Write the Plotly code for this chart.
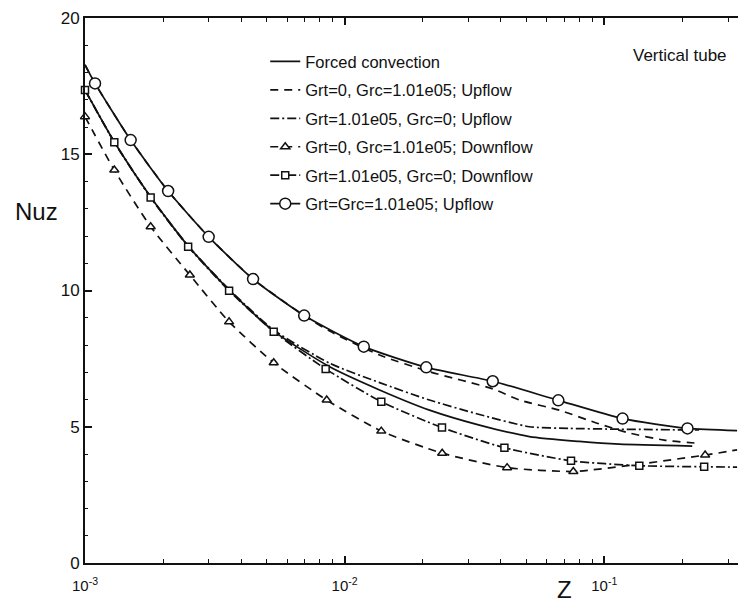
import plotly.graph_objects as go

# ---------------- data ----------------
z_forced = [0.00100, 0.001297, 0.00179, 0.002496, 0.003589, 0.005331, 0.008756,
            0.01363, 0.02122, 0.03305, 0.05146, 0.08014, 0.1142, 0.2181]
nu_forced = [17.36, 15.45, 13.43, 11.63, 10.02, 8.51, 7.20,
             6.35, 5.61, 5.06, 4.64, 4.46, 4.36, 4.29]

z_grc_up = [0.00100, 0.001093, 0.001499, 0.00209, 0.002994, 0.004439, 0.006985, 0.008756,
            0.01363, 0.02122, 0.03718, 0.0471, 0.06712, 0.09316, 0.1248, 0.1702, 0.2319]
nu_grc_up = [18.28, 17.60, 15.52, 13.65, 11.97, 10.42, 9.08, 8.51,
             7.63, 7.02, 6.39, 5.98, 5.61, 5.14, 4.77, 4.51, 4.39]

z_grt_up = [0.00100, 0.001297, 0.00179, 0.002496, 0.003589, 0.005331, 0.008756,
            0.01363, 0.02122, 0.03305, 0.05146, 0.07334, 0.1142, 0.2319]
nu_grt_up = [17.36, 15.45, 13.43, 11.64, 10.04, 8.55, 7.33,
             6.62, 5.98, 5.45, 5.00, 4.94, 4.91, 4.88]

z_grc_down = [0.00100, 0.001297, 0.00179, 0.002534, 0.003589, 0.005331, 0.00853,
              0.01384, 0.02375, 0.04224, 0.0760, 0.1364, 0.2446, 0.3247]
nu_grc_down = [16.38, 14.42, 12.34, 10.57, 8.85, 7.35, 5.98,
               4.84, 4.03, 3.50, 3.36, 3.63, 3.96, 4.15]
grc_down_marked = [1, 1, 1, 1, 1, 1, 1, 1, 1, 1, 1, 0, 1, 0]

z_grt_down = [0.00100, 0.001297, 0.00179, 0.002496, 0.003589, 0.005331, 0.00845,
              0.01384, 0.02371, 0.04124, 0.07444, 0.1364, 0.2425, 0.3247]
nu_grt_down = [17.36, 15.44, 13.41, 11.61, 9.99, 8.49, 7.12,
               5.92, 4.97, 4.23, 3.75, 3.57, 3.53, 3.52]
grt_down_marked = [1, 1, 1, 1, 1, 1, 1, 1, 1, 1, 1, 1, 1, 0]

z_both_up = [0.00100, 0.001093, 0.001499, 0.00209, 0.002994, 0.004439, 0.006985,
             0.01185, 0.02062, 0.03718, 0.06653, 0.1176, 0.2091, 0.3247]
nu_both_up = [18.28, 17.60, 15.52, 13.65, 11.97, 10.42, 9.08,
              7.94, 7.18, 6.67, 5.97, 5.30, 4.94, 4.86]
both_up_marked = [0, 1, 1, 1, 1, 1, 1, 1, 1, 1, 1, 1, 1, 0]

series_names = ["Forced convection",
                "Grt=0, Grc=1.01e05; Upflow",
                "Grt=1.01e05, Grc=0; Upflow",
                "Grt=0, Grc=1.01e05; Downflow",
                "Grt=1.01e05, Grc=0; Downflow",
                "Grt=Grc=1.01e05; Upflow"]

x_tickvals = [0.001, 0.01, 0.1]
x_ticktext = ["10<sup>-3</sup>", "10<sup>-2</sup>", "10<sup>-1</sup>"]
y_tickvals = [0, 5, 10, 15, 20]

# ---------------- figure ----------------
BLACK = "#111111"
DASH = "8px,6px"
DASHDOT = "9px,3px,2px,3px"
FONT = "Liberation Sans, Arial, sans-serif"

series = [
    (z_forced, nu_forced, None, "solid", None, None),
    (z_grc_up, nu_grc_up, None, DASH, None, None),
    (z_grt_up, nu_grt_up, None, DASHDOT, None, None),
    (z_grc_down, nu_grc_down, grc_down_marked, DASH, "triangle-up", 8),
    (z_grt_down, nu_grt_down, grt_down_marked, DASHDOT, "square", 7),
    (z_both_up, nu_both_up, both_up_marked, "solid", "circle", 11),
]

fig = go.Figure()

for i, (zs, ns, marked, dash, sym, size) in enumerate(series):
    fig.add_trace(go.Scatter(
        x=zs, y=ns, mode="lines",
        line=dict(color=BLACK, width=1.7, dash=dash, shape="spline", smoothing=0.6),
        showlegend=False, hoverinfo="skip"))
    if marked is not None:
        mz = [z for z, m in zip(zs, marked) if m]
        mn = [n for n, m in zip(ns, marked) if m]
        fig.add_trace(go.Scatter(
            x=mz, y=mn, mode="markers",
            marker=dict(symbol=sym, size=size, color="white",
                        line=dict(color=BLACK, width=1.5)),
            showlegend=False, hoverinfo="skip", cliponaxis=False))

# legend entries (no data, legend only)
for i, (zs, ns, marked, dash, sym, size) in enumerate(series):
    kw = dict(mode="lines")
    if sym is not None:
        kw = dict(mode="lines+markers",
                  marker=dict(symbol=sym, size=size, color="white",
                              line=dict(color=BLACK, width=1.5)))
    fig.add_trace(go.Scatter(
        x=[None], y=[None], name=series_names[i],
        line=dict(color=BLACK, width=1.7, dash=dash),
        legendgroup=f"g{i}", legendrank=i + 1, showlegend=True, **kw))

fig.update_layout(
    width=738, height=608,
    margin=dict(l=85, r=0, t=18, b=45),
    paper_bgcolor="white", plot_bgcolor="white",
    font=dict(family=FONT, color=BLACK),
    legend=dict(
        x=0.276, y=0.952, xanchor="left", yanchor="top",
        bgcolor="rgba(0,0,0,0)", borderwidth=0,
        font=dict(size=16.5, color=BLACK),
        traceorder="grouped", tracegroupgap=4,
        itemwidth=30),
    xaxis=dict(
        type="log", range=[-3, -0.485],
        tickmode="array", tickvals=x_tickvals, ticktext=x_ticktext,
        ticks="inside", ticklen=7, tickwidth=1.5, tickcolor=BLACK,
        showline=True, linewidth=2, linecolor=BLACK, mirror="ticks",
        showgrid=False, zeroline=False, ticklabelstandoff=8,
        tickfont=dict(size=15, color=BLACK),
        minor=dict(tickvals=[2e-3, 3e-3, 4e-3, 5e-3, 6e-3, 7e-3, 8e-3, 9e-3,
                             2e-2, 3e-2, 4e-2, 5e-2, 6e-2, 7e-2, 8e-2, 9e-2,
                             2e-1, 3e-1],
                   ticks="inside", ticklen=4, tickwidth=1, tickcolor=BLACK,
                   showgrid=False),
    ),
    yaxis=dict(
        range=[0, 20],
        tickmode="array", tickvals=y_tickvals,
        ticks="inside", ticklen=7, tickwidth=1.5, tickcolor=BLACK,
        showline=True, linewidth=2, linecolor=BLACK,
        showgrid=False, zeroline=False,
        tickfont=dict(size=17, color=BLACK, family=FONT),
        minor=dict(dtick=1, ticks="inside", ticklen=3, tickwidth=1, tickcolor=BLACK,
                   showgrid=False),
    ),
    annotations=[
        dict(text="Nuz", xref="paper", yref="paper", x=-0.074, y=0.645,
             xanchor="center", yanchor="middle", showarrow=False,
             font=dict(size=24, color=BLACK)),
        dict(text="Z", xref="paper", yref="paper", x=0.735, y=-0.048,
             xanchor="center", yanchor="middle", showarrow=False,
             font=dict(size=24, color=BLACK)),
        dict(text="Vertical tube", xref="paper", yref="paper", x=0.911, y=0.932,
             xanchor="center", yanchor="middle", showarrow=False,
             font=dict(size=17, color=BLACK)),
    ],
)

fig.write_html("out.html")
